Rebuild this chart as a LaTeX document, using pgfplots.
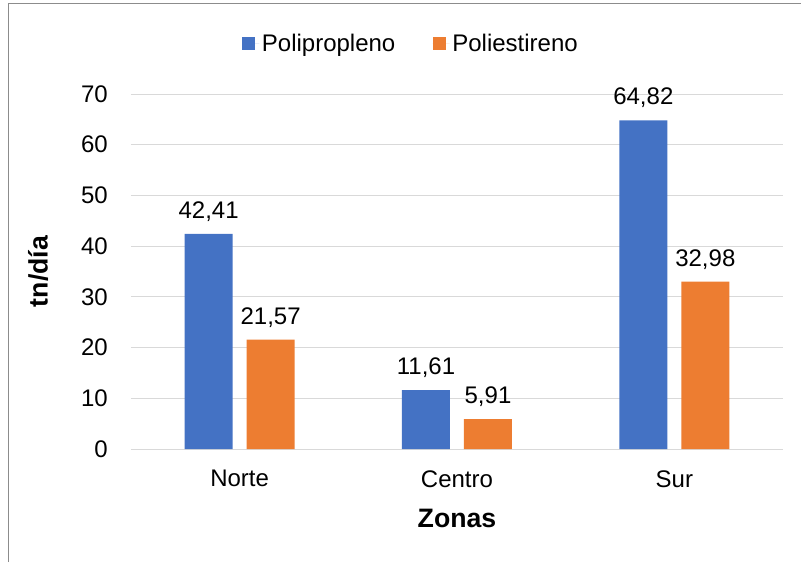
\documentclass[border=0pt]{standalone}
\usepackage{pgfplots}
\pgfplotsset{compat=1.18}
\usepackage{fontspec}
\setmainfont{Liberation Sans}
\definecolor{polblue}{HTML}{4472C4}
\definecolor{polorange}{HTML}{ED7D31}
\definecolor{gridgray}{HTML}{D9D9D9}
\definecolor{framegray}{HTML}{8C8C8C}
\newcommand{\lbl}{\fontsize{18}{21}\selectfont}
\newcommand{\ttl}{\bfseries\fontsize{20}{24}\selectfont}
\begin{document}
\begin{tikzpicture}
% 1 px = 0.75pt
\useasboundingbox (0,0) rectangle (600.75pt,421.5pt);
\draw[framegray, line width=0.75pt] (6pt,0) -- (6pt,418.5pt) -- (600.75pt,418.5pt);
\begin{axis}[
  at={(98.25pt,84.75pt)}, anchor=south west,
  scale only axis,
  width=489pt, height=266.25pt,
  ybar=10.5pt, bar width=36pt,
  xmin=-0.5, xmax=2.5,
  ymin=0, ymax=70,
  xtick=data,
  xticklabels={Norte,Centro,Sur},
  ytick={0,10,...,70},
  major tick length=0pt,
  axis line style={draw=none},
  ymajorgrids,
  major grid style={draw=gridgray, line width=0.75pt},
  /pgf/number format/assume math mode=true,
  tick label style={font=\lbl},
  yticklabel style={anchor=east, inner sep=0pt, xshift=-17.25pt},
  xticklabel style={anchor=north, inner sep=0pt, yshift=-15.75pt},
  ylabel={tn/día},
  xlabel={Zonas},
  ylabel style={font=\ttl, at={(axis description cs:-0.1426,0.5)}, anchor=center},
  xlabel style={font=\ttl, at={(axis description cs:0.5,-0.197)}, anchor=center},
  point meta=explicit symbolic,
  nodes near coords,
  nodes near coords style={font=\lbl, anchor=south, inner sep=0pt, yshift=9pt},
  legend columns=2,
  legend style={draw=none, fill=none, font=\lbl,
    at={(axis description cs:0.43,1.141)}, anchor=center,
    /tikz/every even column/.append style={column sep=26pt}},
  legend image code/.code={\fill[#1] (0pt,-4.9pt) rectangle (9.75pt,4.9pt);
    \path (0pt,0pt) -- (12.75pt,0pt);},
]
\addplot[draw=none, fill=polblue] coordinates {
  (0,42.41) [42,41]
  (1,11.61) [11,61]
  (2,64.82) [64,82]
};
\addplot[draw=none, fill=polorange] coordinates {
  (0,21.57) [21,57]
  (1,5.91)  [5,91]
  (2,32.98) [32,98]
};
\legend{Polipropleno,Poliestireno}
\end{axis}
\end{tikzpicture}
\end{document}
